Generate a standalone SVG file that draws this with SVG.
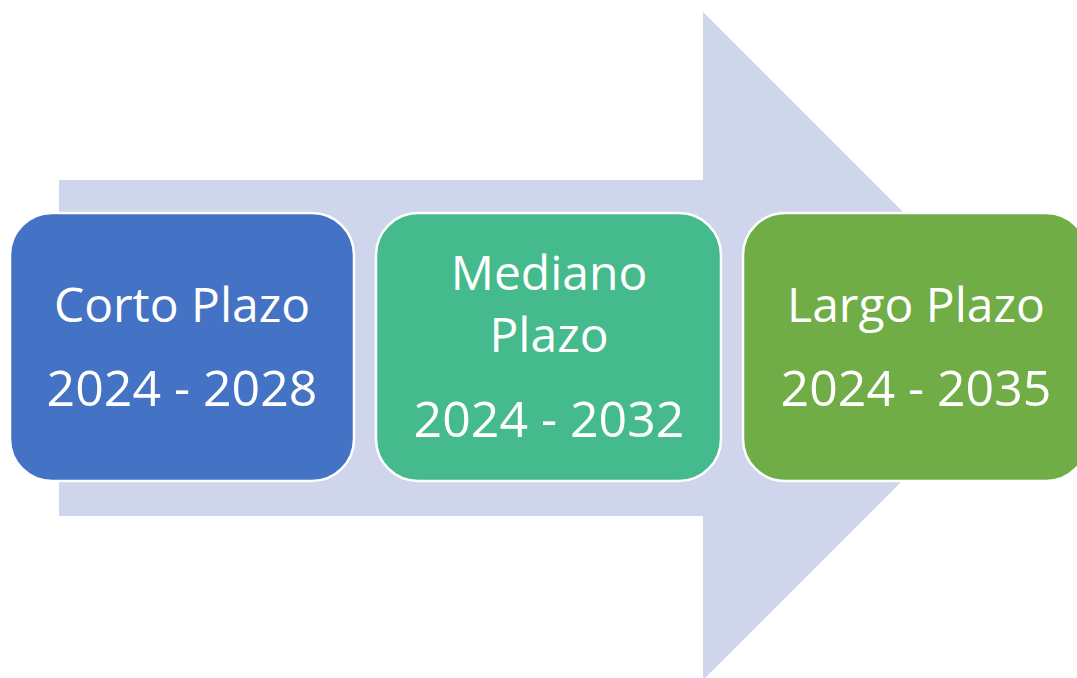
<svg xmlns="http://www.w3.org/2000/svg" width="1077" height="678" viewBox="0 0 1077 678">
<style>
.box{stroke:#ffffff;stroke-width:2.5}
.t{font-family:"Open Sans","Liberation Sans",sans-serif;font-size:48px;fill:#ffffff;text-anchor:middle}
.y{font-size:50px}
</style>
<rect width="1077" height="678" fill="#ffffff"/>
<g id="arrow">
<polygon points="59,180 703,180 703,12 1037,346 703,680 703,516 59,516" fill="#CFD5EA"/>
</g>
<g id="node-corto">
<rect class="box" x="10" y="213" width="344" height="268" rx="42" fill="#4472C4"/>
<text class="t" x="182" y="322">Corto Plazo</text>
<text class="t y" x="182" y="406">2024 - 2028</text>
</g>
<g id="node-mediano">
<rect class="box" x="376" y="213" width="345" height="268" rx="42" fill="#45BA8C"/>
<text class="t" x="549" y="290">Mediano</text>
<text class="t" x="549" y="352">Plazo</text>
<text class="t y" x="549" y="437">2024 - 2032</text>
</g>
<g id="node-largo">
<rect class="box" x="743" y="213" width="345" height="268" rx="42" fill="#70AD47"/>
<text class="t" x="916" y="322">Largo Plazo</text>
<text class="t y" x="916" y="406">2024 - 2035</text>
</g>
</svg>
